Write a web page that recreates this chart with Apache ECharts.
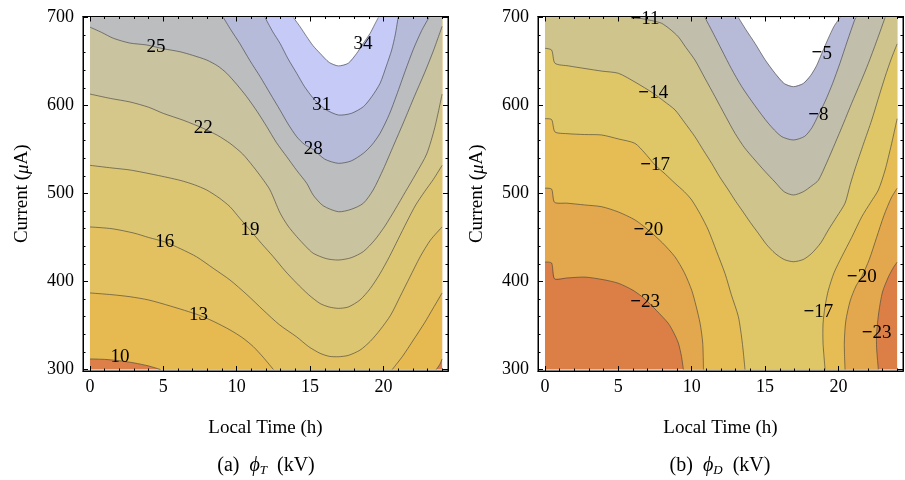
<!DOCTYPE html>
<html>
<head>
<meta charset="utf-8">
<script src="https://cdn.jsdelivr.net/npm/echarts@6/dist/echarts.min.js"></script>
<style>
  html, body { margin: 0; padding: 0; background: #fff; }
  #chart { width: 905px; height: 480px; }
</style>
</head>
<body>
<div id="chart"></div>
<script>
// ---------- axes ----------
const hourTicks = [0, 5, 10, 15, 20];
const hourMinorTicks = [1, 2, 3, 4, 6, 7, 8, 9, 11, 12, 13, 14, 16, 17, 18, 19, 21, 22, 23, 24];
const currentTicks = [300, 400, 500, 600, 700];
const currentMinorTicks = [320, 340, 360, 380, 420, 440, 460, 480, 520, 540, 560, 580, 620, 640, 660, 680];
const hourRange = [0, 24];
const currentRange = [300, 700];

// ---------- phi_T contours: [local time (h), current (uA)] ----------
const phiTLevels = [10, 13, 16, 19, 22, 25, 28, 31, 34];
const phiT10 = [
  [[0, 312], [1, 311.5], [2, 310], [3, 307.5], [4, 304], [4.8, 300]],
  [[23.6, 300], [23.85, 306], [24, 312]]
];
const phiT13 = [
  [[0, 387], [1.5, 385], [2.73, 382.7], [4, 379], [5.5, 372], [7.4, 362], [8.5, 354], [9.54, 345], [10.4, 336], [11.13, 326], [11.8, 314], [12.5, 300]],
  [[20.6, 300], [21.3, 315], [22.04, 333.5], [22.8, 353], [23.4, 370], [24, 387]]
];
const phiT16 = [
  [[0, 462], [1.5, 460], [3, 455], [4, 450], [5.1, 445], [6.2, 437], [7.27, 428], [8.4, 415], [9.54, 401.7], [10.7, 385], [11.8, 367.6], [12.9, 351], [14.09, 337], [14.9, 326], [15.68, 318.4], [16.3, 315], [16.93, 314.5], [17.6, 316], [18.4, 322], [19.1, 332], [19.77, 345], [20.5, 362], [21.13, 382.7], [21.8, 405], [22.5, 428], [23.2, 447], [24, 462]]
];
const phiT19 = [
  [[0, 532], [1.5, 529], [2.73, 526.7], [4.5, 521], [6.13, 515], [7.1, 510], [7.95, 504], [8.8, 495], [9.54, 485], [10.2, 472], [10.9, 458.5], [11.7, 443], [12.5, 428], [13.3, 412], [14.09, 398], [14.9, 385], [15.68, 375], [16.3, 371], [16.93, 369.5], [17.6, 371], [18.4, 379], [19.1, 392], [19.77, 409], [20.4, 428], [21, 448], [21.6, 468], [22.2, 487], [22.8, 502], [23.4, 516], [24, 532]]
];
const phiT22 = [
  [[0, 613], [1.4, 608], [2.73, 604], [4, 598], [5, 591], [6.4, 583], [7.72, 574], [8.7, 566], [9.54, 557], [10.4, 545], [11.13, 530.5], [11.7, 518], [12.27, 504], [12.95, 478], [13.5, 463], [14.09, 451], [14.7, 440], [15.22, 432], [16.1, 426], [16.93, 424.4], [17.8, 427], [18.63, 434], [19.4, 447], [20.1, 463], [20.8, 482], [21.5, 502], [22.2, 522], [22.95, 545], [23.5, 575], [24, 613]]
];
const phiT25 = [
  [[0, 689], [0.8, 683], [1.59, 676.4], [2.7, 671], [3.86, 668.8], [5, 664.5], [6.13, 661.1], [7, 657], [7.95, 651.7], [8.7, 645], [9.32, 636.6], [10, 624], [10.68, 610], [11.4, 593], [12.05, 575.9], [12.7, 558], [13.41, 541.8], [14.1, 526], [14.77, 511.6], [15.22, 498], [15.9, 486], [16.93, 479.3], [17.8, 482], [18.63, 488.9], [19.3, 504], [20, 528], [20.7, 555], [21.4, 582], [22.1, 610], [22.8, 637], [23.4, 662], [24, 690]]
];
const phiT28 = [
  [[9.09, 700], [9.6, 686], [10.2, 670.7], [10.9, 651], [11.6, 632.7], [12.3, 613], [12.95, 594.9], [13.5, 579], [14.09, 564.5], [14.6, 556], [15.22, 550], [16, 539], [16.93, 534.3], [17.8, 537], [18.63, 545.7], [19.2, 555], [19.77, 568.4], [20.4, 590], [20.9, 612], [21.5, 640], [22.04, 664], [22.6, 685], [23.1, 700]]
];
const phiT31 = [
  [[11.93, 700], [12.45, 684], [12.95, 670.7], [13.5, 653], [14.09, 636.6], [14.6, 622], [15.22, 608.2], [16, 596], [16.93, 589.2], [17.8, 591], [18.63, 598.6], [19.2, 610], [19.77, 625.2], [20.2, 645], [20.56, 663], [20.8, 680], [21, 700]]
];
const phiT34 = [
  [[13.86, 700], [14.3, 690], [14.77, 678.2], [15.2, 668], [15.68, 659.3], [16.3, 649], [16.93, 645], [17.6, 648], [18.18, 659.3], [18.6, 670], [19.09, 682], [19.4, 692], [19.65, 700]]
];
const phiTContours = [phiT10, phiT13, phiT16, phiT19, phiT22, phiT25, phiT28, phiT31, phiT34];
// label anchors: [hour, current, text]
const phiTLabels = [
  [2.05, 314.5, '10'], [7.4, 362, '13'], [5.1, 445, '16'], [10.9, 458.5, '19'],
  [7.72, 574, '22'], [4.5, 666, '25'], [15.22, 550, '28'], [15.8, 600, '31'], [18.6, 670, '34']
];

// ---------- phi_D contours ----------
const phiDLevels = [-23, -20, -17, -14, -11, -8, -5];
const phiDm23 = [
  [[0, 422], [0.45, 421], [0.65, 403], [1.5, 404], [2.73, 405], [4, 402], [5, 398], [6, 390], [6.82, 380], [7.6, 367], [8.4, 352.5], [8.8, 341], [9.09, 330], [9.3, 315], [9.43, 300]],
  [[22.72, 300], [22.6, 325], [22.6, 341], [22.75, 365], [23, 388], [23.4, 405], [23.75, 416], [24, 422]]
];
const phiDm20 = [
  [[0, 506], [0.45, 505], [0.65, 490], [1.5, 489], [2.7, 487], [3.86, 485], [5, 479], [6.13, 470], [7.04, 458.5], [8, 444], [8.86, 428], [9.5, 410], [10, 390], [10.3, 372], [10.57, 352.5], [10.75, 330], [10.8, 300]],
  [[20.45, 300], [20.4, 330], [20.5, 355], [20.8, 378], [21.2, 395], [21.59, 405.5], [22.1, 425], [22.6, 450], [23.1, 475], [23.6, 495], [24, 506]]
];
const phiDm17 = [
  [[0, 585], [0.45, 584], [0.68, 570], [1.5, 568], [2.7, 567], [3.86, 566.5], [5, 562], [6.13, 557], [6.8, 546], [7.5, 532.4], [8.2, 522], [8.86, 511.6], [9.5, 502], [10, 492.6], [10.6, 476], [11.13, 458.5], [11.7, 434], [12.27, 409], [12.7, 385], [13.18, 360], [13.45, 330], [13.63, 300]],
  [[19.09, 300], [18.95, 330], [18.95, 352], [19.09, 372], [19.31, 390], [19.7, 410], [20.22, 428], [20.9, 450], [21.59, 473.6], [22.2, 490], [22.72, 504], [23.18, 526.7], [23.6, 555], [24, 585]]
];
const phiDm14 = [
  [[0, 665], [0.45, 663], [0.68, 648], [1.6, 645], [2.73, 642], [3.9, 639], [5, 636.6], [6.2, 626], [7.38, 613.9], [8.1, 605], [8.86, 595], [9.5, 581], [10.22, 564.5], [10.8, 549], [11.36, 534.3], [11.9, 519], [12.5, 504], [13, 491], [13.41, 481.3], [14, 467], [14.54, 454.8], [15.1, 442], [15.68, 432], [16.3, 425], [16.93, 422.5], [17.6, 425], [18.18, 432], [18.8, 444], [19.31, 458.5], [19.9, 474], [20.45, 489], [20.8, 510], [21.13, 528], [21.7, 556], [22.27, 583.5], [22.7, 607], [23.18, 632.7], [23.6, 653], [24, 670]]
];
const phiDm11 = [
  [[6.2, 700], [6.82, 698], [7.4, 696], [7.95, 693.4], [8.5, 687], [9.09, 678], [9.6, 666], [10.22, 651.7], [10.9, 631], [11.59, 610], [12.3, 588], [12.95, 568.4], [13.6, 552], [14.31, 538], [15, 525], [15.68, 513], [16.3, 502], [16.93, 498.3], [17.6, 502], [18.2, 509], [18.63, 515], [19.2, 535], [19.77, 557], [20.35, 580], [20.9, 602.5], [21.5, 626], [22.04, 648], [22.6, 673], [23.18, 700]]
];
const phiDm8 = [
  [[10.9, 700], [11.5, 681], [12.05, 663], [12.7, 642], [13.41, 621.4], [14.3, 600], [15.22, 579.8], [16.1, 565], [16.93, 560.8], [17.7, 565], [18.2, 575], [18.63, 589], [19.1, 605], [19.6, 625], [20.1, 648], [20.6, 673], [21.1, 697], [21.2, 700]]
];
const phiDm5 = [
  [[13.18, 700], [13.7, 686], [14.31, 670.7], [15, 652], [15.68, 636.6], [16.3, 625], [16.93, 621.4], [17.6, 625], [18.1, 634], [18.5, 645], [18.86, 659], [19.3, 676], [19.7, 690], [20.11, 700]]
];
const phiDContours = [phiDm23, phiDm20, phiDm17, phiDm14, phiDm11, phiDm8, phiDm5];
const phiDLabels = [
  [6.82, 377, '\u221223'], [7.04, 458.5, '\u221220'], [7.5, 532.4, '\u221217'], [7.38, 613.9, '\u221214'],
  [6.82, 698, '\u221211'], [18.63, 589, '\u22128'], [18.86, 659, '\u22125'],
  [21.59, 405.5, '\u221220'], [18.63, 365.7, '\u221217'], [22.6, 341, '\u221223']
];

// ---------- styling ----------
// band colours, lowest band first; the last entry is the region above the top level
const phiTBandColors = ['#DC7F48', '#E6BA50', '#E3C160', '#DDC672', '#D5C78A', '#C9C3A0', '#BBBDBE', '#B7BBDA', '#C5CAF6', '#FFFFFF'];
const phiDBandColors = ['#DB7F47', '#E3A84D', '#E6BD54', '#DFC767', '#CFC48C', '#C1BFAC', '#B8BBD8', '#FFFFFF'];
const SERIF = '"Liberation Serif", "Times New Roman", serif';
const lineColor = 'rgba(60,60,60,0.6)';

const frame = { top: 16.5, bottom: 109 };
const panels = [
  { left: 83, right: 457 },
  { left: 538, right: 2 }
];
// frame extents in data units (the frame sits a little outside the data box)
const hourFrame = [-0.477, 24.4];
const currentFrame = [298.3, 701.14];

function tickAxis(kind, gridIndex, position, ticks, len, showLabels, extra) {
  const isX = kind === 'x';
  return Object.assign({
    type: 'value',
    gridIndex: gridIndex,
    position: position,
    min: isX ? hourFrame[0] : currentFrame[0],
    max: isX ? hourFrame[1] : currentFrame[1],
    z: 10,
    splitLine: { show: false },
    axisLine: { show: true, onZero: false, lineStyle: { color: '#000', width: 1 } },
    axisTick: { show: true, inside: true, length: len, customValues: ticks, lineStyle: { color: '#000', width: 1 } },
    axisLabel: showLabels
      ? { show: true, customValues: ticks, color: '#000', fontFamily: SERIF, fontSize: 18, margin: isX ? 7 : 9 }
      : { show: false },
    axisPointer: { show: false }
  }, extra || {});
}

const xAxes = [], yAxes = [];
panels.forEach((p, g) => {
  xAxes.push(tickAxis('x', g, 'bottom', hourTicks, 5, true, {
    name: 'Local Time (h)', nameLocation: 'middle', nameGap: 48,
    nameTextStyle: { color: '#000', fontFamily: SERIF, fontSize: 19 }
  }));
  xAxes.push(tickAxis('x', g, 'bottom', hourMinorTicks, 2.5, false));
  xAxes.push(tickAxis('x', g, 'top', hourTicks, 5, false));
  xAxes.push(tickAxis('x', g, 'top', hourMinorTicks, 2.5, false));
  yAxes.push(tickAxis('y', g, 'left', currentTicks, 5, true, {
    name: 'Current ({i|\u03bc}A)', nameLocation: 'middle', nameGap: 51, nameRotate: 90,
    nameTextStyle: {
      color: '#000', fontFamily: SERIF, fontSize: 19,
      rich: { i: { fontStyle: 'italic', fontFamily: SERIF, fontSize: 19, color: '#000' } }
    }
  }));
  yAxes.push(tickAxis('y', g, 'left', currentMinorTicks, 2.5, false));
  yAxes.push(tickAxis('y', g, 'right', currentTicks, 5, false));
  yAxes.push(tickAxis('y', g, 'right', currentMinorTicks, 2.5, false));
});

function bandFill(g, contours, colors) {
  return {
    type: 'custom', xAxisIndex: g * 4, yAxisIndex: g * 4, silent: true, z: 1,
    data: colors.slice(0, contours.length + 1).map(() => [hourRange[0], currentRange[0]]),
    renderItem: function (params, api) {
      const k = params.dataIndex;
      let pts;
      if (k === 0) {
        pts = [[hourRange[0], currentRange[0]], [hourRange[1], currentRange[0]],
               [hourRange[1], currentRange[1]], [hourRange[0], currentRange[1]]];
      } else {
        pts = [].concat.apply([], contours[k - 1]);
        pts = pts.concat([[hourRange[1], currentRange[1]], [hourRange[0], currentRange[1]]]);
      }
      return { type: 'polygon', shape: { points: pts.map(q => api.coord(q)) }, style: { fill: colors[k] } };
    }
  };
}

function contourLines(g, contours) {
  return {
    type: 'custom', xAxisIndex: g * 4, yAxisIndex: g * 4, silent: true, z: 3,
    data: contours.map(() => [hourRange[0], currentRange[0]]),
    renderItem: function (params, api) {
      const segs = contours[params.dataIndex];
      return {
        type: 'group',
        children: segs.map(seg => ({
          type: 'polyline',
          shape: { points: seg.map(q => api.coord(q)), smooth: 0.25 },
          style: { stroke: lineColor, lineWidth: 1, fill: null }
        }))
      };
    }
  };
}

// a leading minus sign is set heavier, as in the printed labels
function labelText(t) {
  return t.charAt(0) === '\u2212' ? '{m|\u2212}' + t.slice(1) : t;
}

function contourLabels(g, labels) {
  return {
    type: 'custom', xAxisIndex: g * 4, yAxisIndex: g * 4, silent: true, z: 5,
    data: labels.map(l => [l[0], l[1]]),
    renderItem: function (params, api) {
      const l = labels[params.dataIndex];
      const p = api.coord([l[0], l[1]]);
      return {
        type: 'text', x: p[0], y: p[1],
        style: {
          text: labelText(l[2]), align: 'center', verticalAlign: 'middle', fill: '#000',
          fontFamily: SERIF, fontSize: 19,
          rich: { m: { fontFamily: SERIF, fontSize: 19, fontWeight: 'bold', fill: '#000' } }
        }
      };
    }
  };
}

const captionRich = {
  i: { fontFamily: SERIF, fontStyle: 'italic', fontSize: 20, fill: '#000' },
  s: { fontFamily: SERIF, fontStyle: 'italic', fontSize: 13, fill: '#000', padding: [10, 0, 0, 0] }
};

const option = {
  animation: false,
  backgroundColor: '#fff',
  grid: panels.map(p => ({
    left: p.left, right: p.right, top: frame.top, bottom: frame.bottom,
    show: true, borderColor: '#000', borderWidth: 1, backgroundColor: 'transparent', containLabel: false
  })),
  xAxis: xAxes,
  yAxis: yAxes,
  series: [
    bandFill(0, phiTContours, phiTBandColors),
    contourLines(0, phiTContours),
    contourLabels(0, phiTLabels),
    bandFill(1, phiDContours, phiDBandColors),
    contourLines(1, phiDContours),
    contourLabels(1, phiDLabels)
  ],
  graphic: [
    { type: 'text', x: 266, y: 466, style: { text: '(a)  {i|\u03d5}{s|T}  (kV)', rich: captionRich, align: 'center', verticalAlign: 'middle', fill: '#000', fontFamily: SERIF, fontSize: 20 } },
    { type: 'text', x: 720, y: 466, style: { text: '(b)  {i|\u03d5}{s|D}  (kV)', rich: captionRich, align: 'center', verticalAlign: 'middle', fill: '#000', fontFamily: SERIF, fontSize: 20 } }
  ]
};

const chart = echarts.init(document.getElementById('chart'), null, { renderer: 'canvas' });
chart.setOption(option);
</script>
</body>
</html>
